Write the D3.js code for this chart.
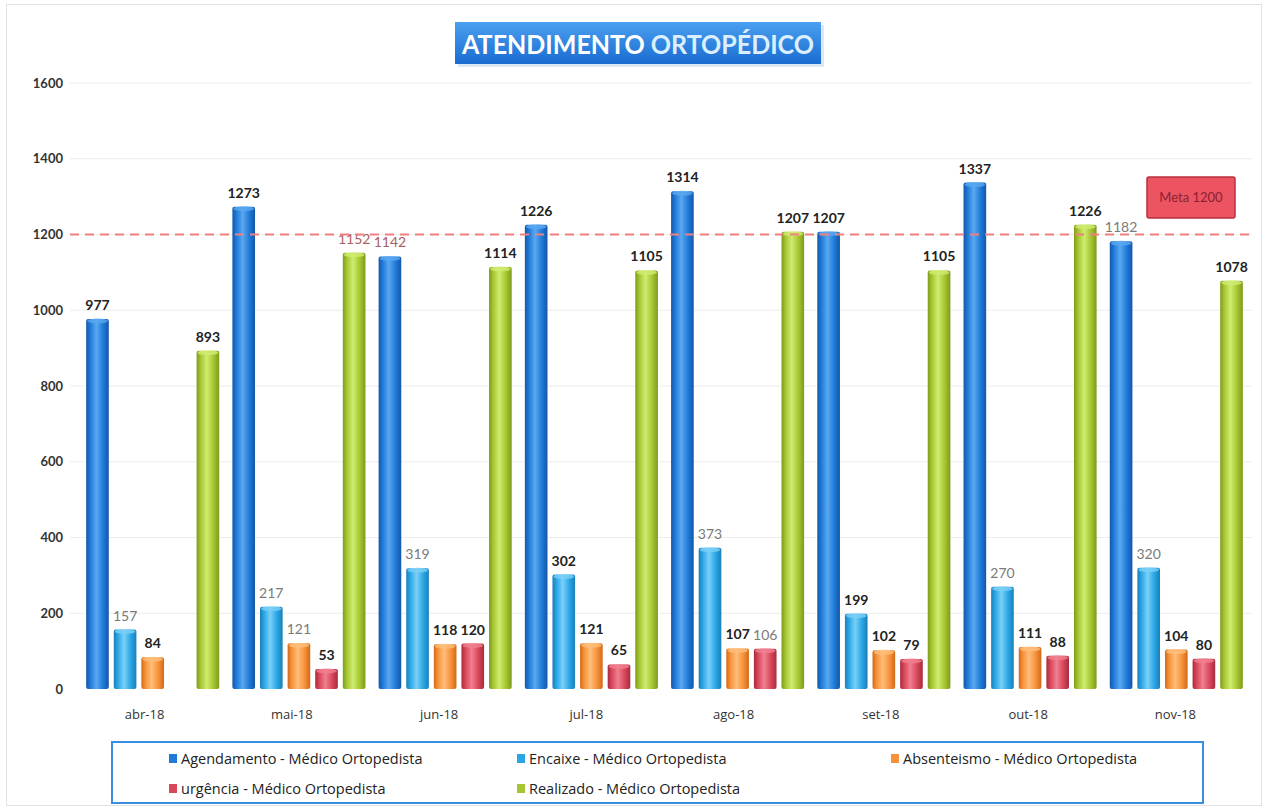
<!DOCTYPE html>
<html><head><meta charset="utf-8">
<script src="https://cdn.jsdelivr.net/npm/d3@7"></script>
<style>body{margin:0;background:#fff}svg{display:block}</style>
</head><body>
<svg id="c" width="1268" height="809"></svg>
<script>
const months = ["abr-18","mai-18","jun-18","jul-18","ago-18","set-18","out-18","nov-18"];
const seriesNames = ["Agendamento - Médico Ortopedista","Encaixe - Médico Ortopedista","Absenteismo - Médico Ortopedista","urgência - Médico Ortopedista","Realizado - Médico Ortopedista"];
const agendamento = [977,1273,1142,1226,1314,1207,1337,1182];
const encaixe = [157,217,319,302,373,199,270,320];
const absenteismo = [84,121,118,121,107,102,111,104];
const urgencia = [null,53,120,65,106,79,88,80];
const realizado = [893,1152,1114,1105,1207,1105,1226,1078];
const meta = 1200;
const yTicks = [0,200,400,600,800,1000,1200,1400,1600];
const titleA = "ATENDIMENTO", titleB = "ORTOPÉDICO";
const metaLabel = "Meta 1200";

const seriesValues = [agendamento, encaixe, absenteismo, urgencia, realizado];
const colors = ["#1f7ad9","#2aa6e6","#f7913a","#d8475a","#a6c631"];
const darkColors = ["#1457a8","#1a7fb8","#d06a18","#a82a3c","#7e9a1c"];
const lightColors = ["#5aa8f0","#7ad0f8","#ffbe7a","#f08090","#d0ec70"];
// label tone (style): muted labels
const mutedLabels = {"0-1":1,"1-1":1,"1-2":1,"2-1":1,"4-1":1,"4-3":1,"6-1":1,"7-1":1,"7-0":1};
const brownLabels = {"1-4":1,"2-0":1};

const svg = d3.select("#c");
const defs = svg.append("defs");
colors.forEach((c,i)=>{
  const g = defs.append("linearGradient").attr("id","g"+i).attr("x1","0").attr("x2","1").attr("y1","0").attr("y2","0");
  g.append("stop").attr("offset","0%").attr("stop-color",darkColors[i]);
  g.append("stop").attr("offset","18%").attr("stop-color",c);
  g.append("stop").attr("offset","45%").attr("stop-color",lightColors[i]);
  g.append("stop").attr("offset","75%").attr("stop-color",c);
  g.append("stop").attr("offset","100%").attr("stop-color",darkColors[i]);
});
const tg = defs.append("linearGradient").attr("id","tg").attr("x1","0").attr("x2","0").attr("y1","0").attr("y2","1");
tg.append("stop").attr("offset","0%").attr("stop-color","#4aa0f0");
tg.append("stop").attr("offset","100%").attr("stop-color","#1a6cd0");

// outer frame
svg.append("rect").attr("x",6.5).attr("y",4.5).attr("width",1255).attr("height",801).attr("fill","none").attr("stroke","#e2e2e2");

const y = d3.scaleLinear().domain([0,1600]).range([689,83]);
const x0 = d3.scaleBand().domain(months).range([73,1256]).paddingInner(0.09).paddingOuter(0.09);
const x1 = d3.scaleBand().domain(d3.range(5)).range([0,x0.bandwidth()]).paddingInner(0.18);
const labelX = d3.scaleBand().domain(months).range([71,1249]);

// grid
svg.append("g").selectAll("line").data(yTicks.slice(1)).join("line")
  .attr("x1",70).attr("x2",1252).attr("y1",d=>y(d)).attr("y2",d=>y(d))
  .attr("stroke","#ececec").attr("stroke-width",1);

// y axis
const yAxis = d3.axisLeft(y).tickValues(yTicks).tickFormat(d3.format("d")).tickSize(0).tickPadding(0);
const ya = svg.append("g").attr("transform","translate(63,0)").call(yAxis);
ya.select(".domain").remove();
ya.selectAll("text").attr("font-family","Lato").attr("font-weight","bold").attr("font-size",13).attr("fill","#333");

// x axis labels
const xAxis = d3.axisBottom(labelX).tickSize(0).tickPadding(0);
const xa = svg.append("g").attr("transform","translate(0,710)").call(xAxis);
xa.select(".domain").remove();
xa.selectAll("text").attr("font-family","Open Sans").attr("font-size",13).attr("fill","#333");

// bars
const groups = svg.append("g").selectAll("g").data(months).join("g")
  .attr("transform",d=>`translate(${x0(d)},0)`);
groups.each(function(m,mi){
  const g = d3.select(this);
  seriesValues.forEach((vals,si)=>{
    const v = vals[mi];
    if(v==null) return;
    const bx = x1(si), bw = x1.bandwidth(), top = y(v), h = y(0)-top;
    g.append("rect").attr("x",bx).attr("y",top).attr("width",bw).attr("height",h)
      .attr("fill",`url(#g${si})`).attr("rx",2);
    g.append("ellipse").attr("cx",bx+bw/2).attr("cy",top+2).attr("rx",bw/2-1).attr("ry",2.5)
      .attr("fill",lightColors[si]).attr("opacity",0.8);
  });
});

// meta line
svg.append("line").attr("x1",70).attr("x2",1252).attr("y1",y(meta)).attr("y2",y(meta))
  .attr("stroke","#f07f80").attr("stroke-width",2).attr("stroke-dasharray","9,6");

// labels
groups.each(function(m,mi){
  const g = d3.select(this);
  seriesValues.forEach((vals,si)=>{
    const v = vals[mi];
    if(v==null) return;
    const key = mi+"-"+si;
    const muted = mutedLabels[key], brown = brownLabels[key];
    g.append("text").attr("x",x1(si)+x1.bandwidth()/2).attr("y",y(v)-9)
      .attr("text-anchor","middle").attr("font-family","Lato").attr("font-size",14)
      .attr("font-weight",muted||brown?"normal":"bold")
      .attr("fill",brown?"#a86060":(muted?"#7a7a7a":"#222"))
      .text(v);
  });
});

// meta box
svg.append("rect").attr("x",1147).attr("y",177).attr("width",88).attr("height",41)
  .attr("fill","#ec5462").attr("stroke","#b8303e").attr("stroke-width",1.5).attr("rx",2);
svg.append("text").attr("x",1191).attr("y",202).attr("text-anchor","middle")
  .attr("font-family","Lato").attr("font-size",13).attr("fill","#8a2230").text(metaLabel);

// title
svg.append("rect").attr("x",458).attr("y",25).attr("width",366).attr("height",42).attr("fill","#c8d8ea").attr("opacity",0.6);
svg.append("rect").attr("x",455).attr("y",22).attr("width",366).attr("height",42).attr("fill","url(#tg)");
const tt = svg.append("text").attr("x",638).attr("y",54).attr("text-anchor","middle")
  .attr("font-family","Lato").attr("font-weight","bold").attr("font-size",27)
  .attr("textLength",352).attr("lengthAdjust","spacingAndGlyphs");
tt.append("tspan").attr("fill","#ffffff").text(titleA);
tt.append("tspan").attr("fill","#dcefff").text(" "+titleB);

// legend
svg.append("rect").attr("x",112).attr("y",742).attr("width",1091).attr("height",61)
  .attr("fill","#fff").attr("stroke","#3a8ee2").attr("stroke-width",2);
const legPos = [[169,759],[517,759],[891,759],[169,789],[517,789]];
seriesNames.forEach((n,i)=>{
  const [lx,ly] = legPos[i];
  svg.append("rect").attr("x",lx).attr("y",ly-5).attr("width",8).attr("height",9).attr("fill",colors[i]);
  svg.append("text").attr("x",lx+12).attr("y",ly+5).attr("font-family","Open Sans").attr("font-size",14.5)
    .attr("fill","#222").text(n);
});
</script>
</body></html>
